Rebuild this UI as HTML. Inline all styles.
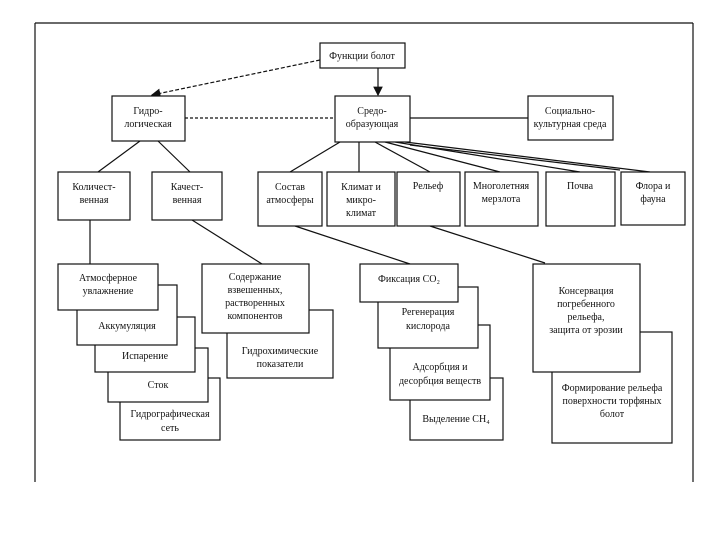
<!DOCTYPE html>
<html><head><meta charset="utf-8"><style>
body{margin:0;background:#fff;}
svg{display:block;}
text{font-family:"Liberation Serif",serif;font-size:10px;fill:#111;text-anchor:middle;}
rect{fill:#fff;stroke:#111;stroke-width:1.2;}
line{stroke:#111;stroke-width:1.2;}
</style></head><body>
<svg width="720" height="540" viewBox="0 0 720 540">
<defs><marker id="a" markerWidth="8" markerHeight="8" refX="7" refY="4" orient="auto"><path d="M0,0 L8,4 L0,8 z" fill="#111"/></marker></defs>
<line x1="35" y1="23" x2="693" y2="23"/>
<line x1="35" y1="23" x2="35" y2="482"/>
<line x1="693" y1="23" x2="693" y2="482"/>

<!-- connectors -->
<line x1="320" y1="60" x2="152" y2="95" stroke-dasharray="4,2" marker-end="url(#a)"/>
<line x1="378" y1="68" x2="378" y2="95" marker-end="url(#a)"/>
<line x1="185" y1="118" x2="335" y2="118" stroke-dasharray="3,2"/>
<line x1="410" y1="118" x2="528" y2="118" stroke-width="1.8"/>
<line x1="140" y1="141" x2="98" y2="172"/>
<line x1="158" y1="141" x2="190" y2="172"/>
<line x1="340" y1="142" x2="290" y2="172"/>
<line x1="359" y1="142" x2="359" y2="172"/>
<line x1="375" y1="142" x2="430" y2="172"/>
<line x1="385" y1="142" x2="500" y2="172"/>
<line x1="395" y1="142" x2="580" y2="172"/>
<line x1="405" y1="142" x2="650" y2="172"/>
<line x1="410" y1="145" x2="620" y2="170"/>
<line x1="90" y1="220" x2="90" y2="264"/>
<line x1="192" y1="220" x2="262" y2="264"/>
<line x1="295" y1="226" x2="410" y2="264"/>
<line x1="430" y1="226" x2="545" y2="263"/>

<!-- top -->
<rect x="320" y="43" width="85" height="25"/><text x="362" y="59">Функции болот</text>
<rect x="112" y="96" width="73" height="45"/><text x="148" y="114">Гидро-</text><text x="148" y="127">логическая</text>
<rect x="335" y="96" width="75" height="46"/><text x="372" y="114">Средо-</text><text x="372" y="127">образующая</text>
<rect x="528" y="96" width="85" height="44"/><text x="570" y="114">Социально-</text><text x="570" y="127">культурная среда</text>

<rect x="58" y="172" width="72" height="48"/><text x="94" y="190">Количест-</text><text x="94" y="203">венная</text>
<rect x="152" y="172" width="70" height="48"/><text x="187" y="190">Качест-</text><text x="187" y="203">венная</text>
<rect x="258" y="172" width="64" height="54"/><text x="290" y="190">Состав</text><text x="290" y="203">атмосферы</text>
<rect x="327" y="172" width="68" height="54"/><text x="361" y="190">Климат и</text><text x="361" y="203">микро-</text><text x="361" y="216">климат</text>
<rect x="397" y="172" width="63" height="54"/><text x="428" y="189">Рельеф</text>
<rect x="465" y="172" width="73" height="54"/><text x="501" y="189">Многолетняя</text><text x="501" y="202">мерзлота</text>
<rect x="546" y="172" width="69" height="54"/><text x="580" y="189">Почва</text>
<rect x="621" y="172" width="64" height="53"/><text x="653" y="189">Флора и</text><text x="653" y="202">фауна</text>

<!-- left stack (bottom first) -->
<rect x="120" y="378" width="100" height="62"/><text x="170" y="417">Гидрографическая</text><text x="170" y="431">сеть</text>
<rect x="108" y="348" width="100" height="54"/><text x="158" y="388">Сток</text>
<rect x="95" y="317" width="100" height="55"/><text x="145" y="359">Испарение</text>
<rect x="77" y="285" width="100" height="60"/><text x="127" y="329">Аккумуляция</text>
<rect x="58" y="264" width="100" height="46"/><text x="108" y="281">Атмосферное</text><text x="108" y="294">увлажнение</text>

<rect x="227" y="310" width="106" height="68"/><text x="280" y="354">Гидрохимические</text><text x="280" y="367">показатели</text>
<rect x="202" y="264" width="107" height="69"/><text x="255" y="280">Содержание</text><text x="255" y="293">взвешенных,</text><text x="255" y="306">растворенных</text><text x="255" y="319">компонентов</text>

<!-- middle stack -->
<rect x="410" y="378" width="93" height="62"/><text x="456" y="422">Выделение CH₄</text>
<rect x="390" y="325" width="100" height="75"/><text x="440" y="370">Адсорбция и</text><text x="440" y="384">десорбция веществ</text>
<rect x="378" y="287" width="100" height="61"/><text x="428" y="315">Регенерация</text><text x="428" y="329">кислорода</text>
<rect x="360" y="264" width="98" height="38"/><text x="409" y="282">Фиксация CO₂</text>

<!-- right stack -->
<rect x="552" y="332" width="120" height="111"/><text x="612" y="391">Формирование рельефа</text><text x="612" y="404">поверхности торфяных</text><text x="612" y="417">болот</text>
<rect x="533" y="264" width="107" height="108"/><text x="586" y="294">Консервация</text><text x="586" y="307">погребенного</text><text x="586" y="320">рельефа,</text><text x="586" y="333">защита от эрозии</text>
</svg>
</body></html>
